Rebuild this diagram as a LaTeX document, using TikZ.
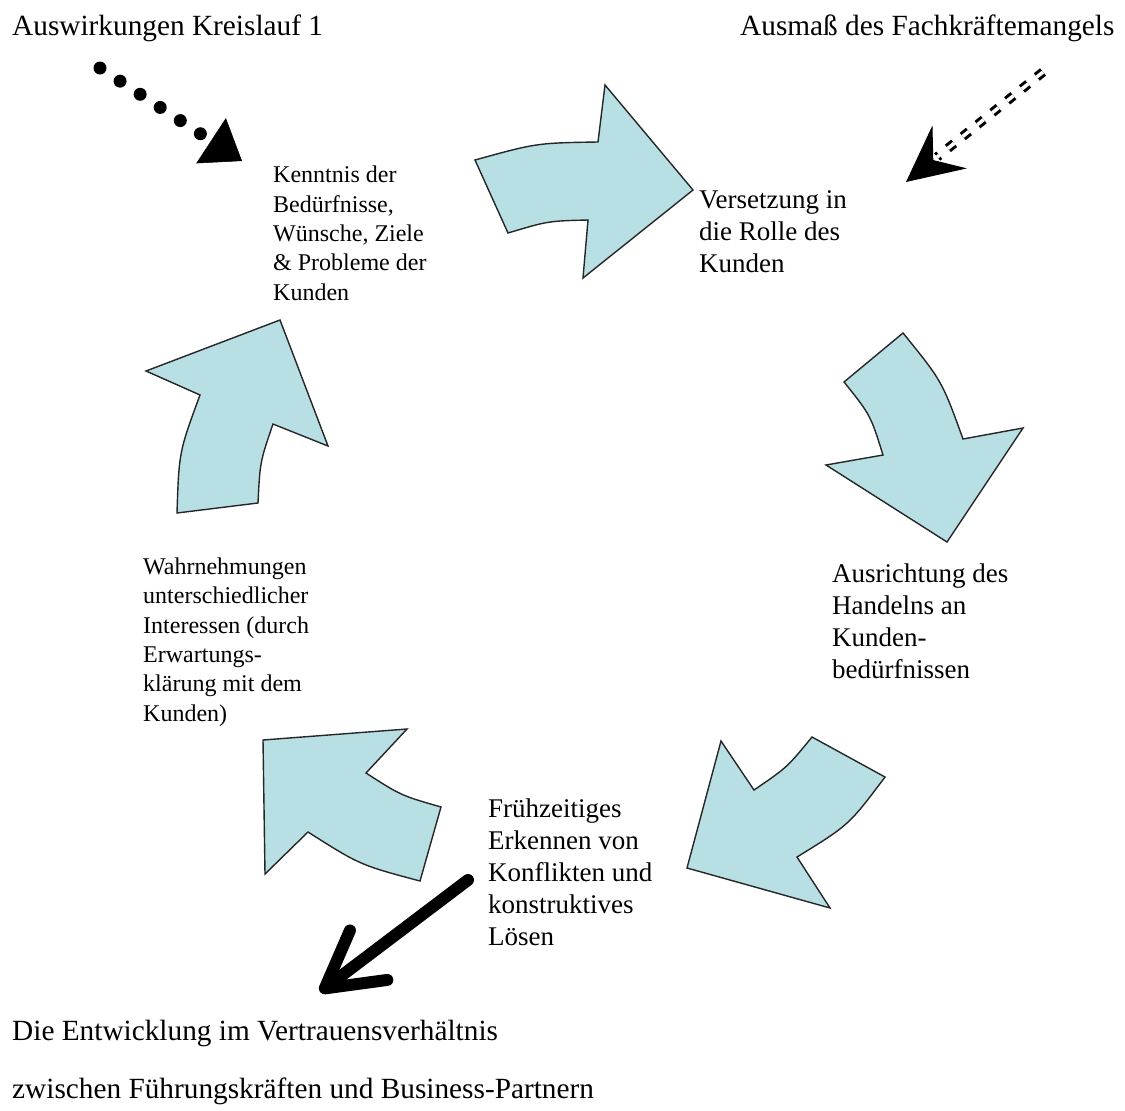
\documentclass[tikz,border=0pt]{standalone}
\usepackage{fontspec}
\setmainfont{Liberation Serif}
\usetikzlibrary{arrows.meta}
\definecolor{cyclefill}{RGB}{184,223,227}
\begin{document}
\begin{tikzpicture}[x=1pt,y=-1pt,
  cyclearrow/.style={fill=cyclefill, draw=black!85, line width=1.4pt, line join=miter},
  bigtext/.style={font=\fontsize{29.3}{35}\selectfont, inner sep=0pt, anchor=base west},
  steptext/.style={align=left, inner sep=0pt, anchor=base west, font=\fontsize{27}{32}\selectfont},
  smalltext/.style={align=left, inner sep=0pt, anchor=base west, font=\fontsize{24}{29.3}\selectfont},
]
\useasboundingbox (0,0) rectangle (1125,1111);

% the five curved block arrows of the cycle
\draw[cyclearrow] (475,160) .. controls (536.5,143) .. (598,142) -- (605,85) -- (693,190)
  -- (583,278) -- (588,220) .. controls (548,221) .. (508,233) -- cycle;
\draw[cyclearrow] (903,333) .. controls (942,381) .. (963,439) -- (1023,428) -- (947,542)
  -- (826,465) -- (883,455) .. controls (870.5,415) .. (844,382) -- cycle;
\draw[cyclearrow] (812,737) -- (885,777) .. controls (849,825) .. (797,857) -- (830,908)
  -- (687,868) -- (721,741) -- (754,790) .. controls (787,767.5) .. cycle;
\draw[cyclearrow] (263,740) -- (407,729) -- (366,773) .. controls (401,795.5) .. (441,807)
  -- (420,881) .. controls (360,865) .. (308,832) -- (265,874) -- cycle;
\draw[cyclearrow] (280,320) -- (328,446) -- (273,424) .. controls (260,462) .. (258,503)
  -- (177,513) .. controls (179,452) .. (200,395) -- (146,371) -- cycle;

% labels (multi-line nodes are placed by the baseline of their last line)
\node[bigtext] (srcA) at (12,35) {Auswirkungen Kreislauf 1};
\node[bigtext] (srcB) at (740,35) {Ausmaß des Fachkräftemangels};
\node[smalltext] (st1) at (273,300) {Kenntnis der\\Bedürfnisse,\\Wünsche, Ziele\\\& Probleme der\\Kunden};
\node[steptext] (st2) at (699,272) {Versetzung in\\die Rolle des\\Kunden};
\node[steptext] (st3) at (832,678) {Ausrichtung des\\Handelns an\\Kunden-\\bedürfnissen};
\node[steptext] (st4) at (488,945) {Frühzeitiges\\Erkennen von\\Konflikten und\\konstruktives\\Lösen};
\node[smalltext] (st5) at (143,721) {Wahrnehmungen\\unterschiedlicher\\Interessen (durch\\Erwartungs-\\klärung mit dem\\Kunden)};
\node[bigtext, align=left, font=\fontsize{29.3}{58}\selectfont] (res) at (12,1098)
  {Die Entwicklung im Vertrauensverhältnis\\zwischen Führungskräften und Business-Partnern};

% connector ends
\coordinate (dotS) at (100,68);
\coordinate (dotE) at (242,161);
\coordinate (dblS) at (1043,72);
\coordinate (dblE) at (906,182);
\coordinate (thkS) at (468,880);
\coordinate (thkE) at (320,992);

% dotted influence arrow
\draw[line width=13pt, line cap=round, dash pattern=on 0pt off 24pt,
  -{Triangle[length=37pt,width=54pt,line width=0.5pt]}] (dotS) -- (dotE);

% double dashed influence arrow
\draw[double, double distance=3.5pt, line width=3pt, dash pattern=on 8pt off 11pt,
  shorten >=40pt] (dblS) -- (dblE);
\draw[white, line width=1pt, shorten <=110pt,
  -{Stealth[length=56pt,width=55pt,inset=21pt,color=black,fill=black]}] (dblS) -- (dblE);

% outcome arrow
\draw[line width=12pt, line cap=round,
  -{Straight Barb[length=55pt,width=62pt,round]}] (thkS) -- (thkE);
\end{tikzpicture}
\end{document}
